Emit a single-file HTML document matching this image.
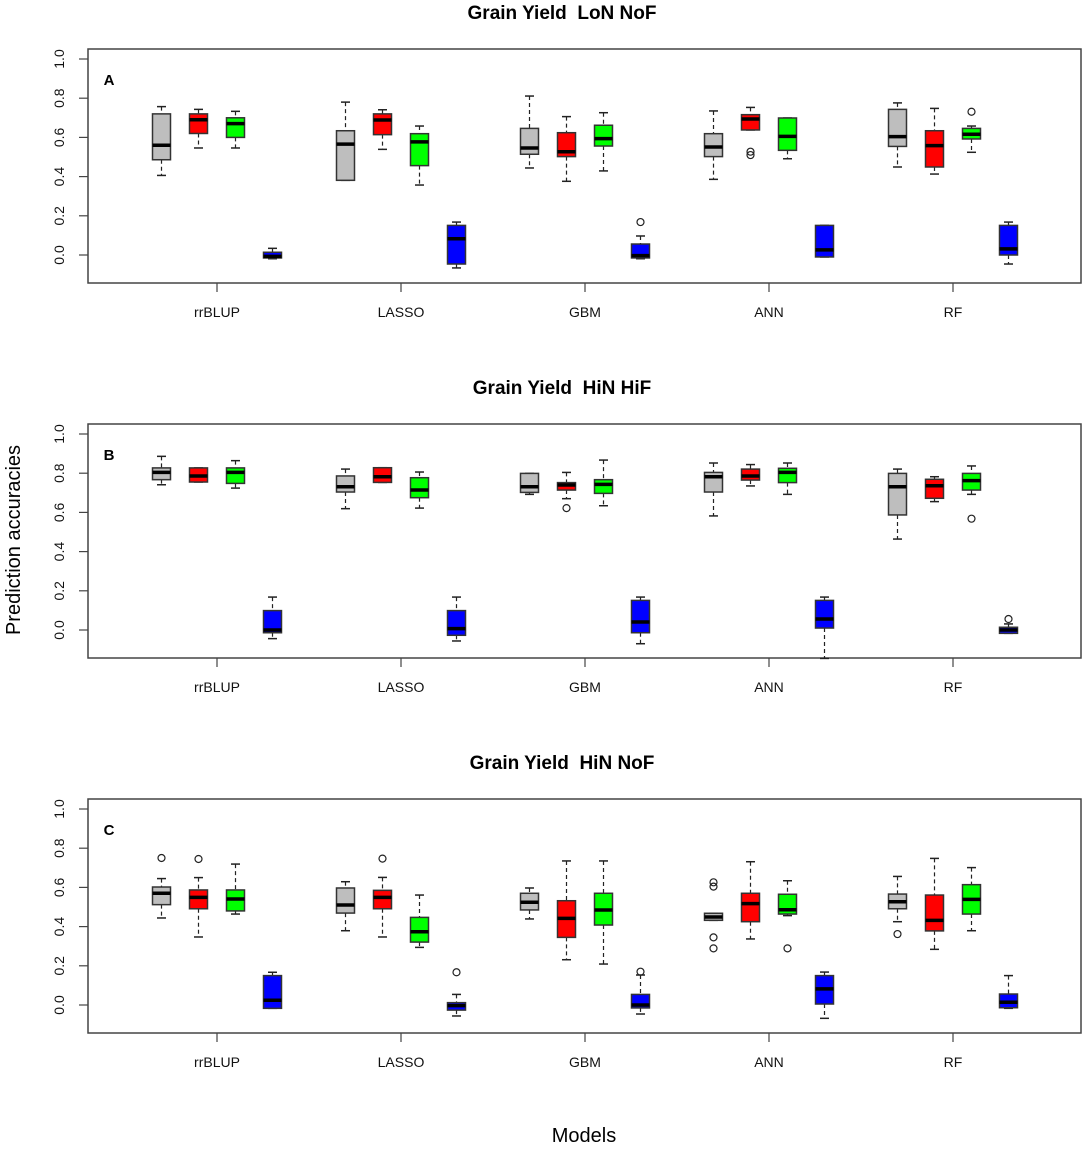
<!DOCTYPE html>
<html><head><meta charset="utf-8"><style>
body{margin:0;background:#fff;}
svg text{font-family:"Liberation Sans",Arial,sans-serif;}
</style></head><body>
<svg id="chart" width="1084" height="1148" viewBox="0 0 1084 1148" xmlns="http://www.w3.org/2000/svg"></svg>
<script>
const models = ["rrBLUP","LASSO","GBM","ANN","RF"];
const panelTitles = ["Grain Yield  LoN NoF","Grain Yield  HiN HiF","Grain Yield  HiN NoF"];
const panelLetters = ["A","B","C"];
const yTicks = [0.0,0.2,0.4,0.6,0.8,1.0];
const yTickLabels = ["0.0","0.2","0.4","0.6","0.8","1.0"];
const seriesColors = ["#bebebe","#ff0000","#00ff00","#0000ff"];
// each entry: [lowWhisker, q1, median, q3, highWhisker]
const aGray  = [[0.406,0.486,0.56,0.72,0.757],[0.381,0.381,0.566,0.634,0.78],[0.444,0.514,0.546,0.646,0.811],[0.386,0.502,0.551,0.619,0.735],[0.449,0.554,0.604,0.743,0.776]];
const aRed   = [[0.546,0.62,0.69,0.72,0.743],[0.539,0.614,0.689,0.72,0.741],[0.376,0.502,0.527,0.624,0.706],[0.638,0.638,0.694,0.716,0.753],[0.413,0.449,0.558,0.634,0.748]];
const aGreen = [[0.546,0.60,0.67,0.70,0.733],[0.357,0.456,0.577,0.619,0.658],[0.429,0.556,0.594,0.662,0.726],[0.491,0.534,0.605,0.699,0.699],[0.524,0.592,0.616,0.646,0.658]];
const aBlue  = [[-0.019,-0.015,-0.007,0.014,0.034],[-0.066,-0.046,0.083,0.151,0.168],[-0.019,-0.015,-0.003,0.056,0.097],[-0.01,-0.01,0.026,0.151,0.151],[-0.046,0,0.031,0.151,0.168]];
const aOutliers = [[1,3,0.527],[1,3,0.51],[3,2,0.168],[2,4,0.731]]; // [series, model, value]
const bGray  = [[0.741,0.767,0.804,0.827,0.886],[0.619,0.704,0.731,0.786,0.821],[0.692,0.702,0.731,0.799,0.799],[0.582,0.704,0.782,0.804,0.852],[0.464,0.587,0.731,0.799,0.821]];
const bRed   = [[0.755,0.755,0.786,0.827,0.827],[0.753,0.753,0.782,0.828,0.828],[0.67,0.714,0.74,0.752,0.804],[0.735,0.765,0.786,0.821,0.844],[0.655,0.672,0.736,0.769,0.782]];
const bGreen = [[0.724,0.748,0.804,0.827,0.864],[0.622,0.675,0.714,0.777,0.806],[0.634,0.697,0.743,0.767,0.867],[0.692,0.752,0.804,0.825,0.852],[0.692,0.714,0.762,0.799,0.837]];
const bBlue  = [[-0.044,-0.014,0.0,0.099,0.168],[-0.056,-0.027,0.007,0.099,0.168],[-0.07,-0.014,0.041,0.151,0.168],[-0.145,0.01,0.056,0.151,0.168],[-0.017,-0.017,0.0,0.014,0.031]];
const bOutliers = [[1,2,0.622],[2,4,0.568],[3,4,0.056]];
const cGray  = [[0.444,0.512,0.57,0.602,0.645],[0.379,0.469,0.51,0.597,0.629],[0.439,0.485,0.524,0.57,0.597],[0.432,0.432,0.449,0.468,0.468],[0.425,0.491,0.527,0.566,0.656]];
const cRed   = [[0.347,0.491,0.549,0.587,0.65],[0.347,0.491,0.549,0.585,0.651],[0.231,0.345,0.442,0.532,0.735],[0.337,0.425,0.517,0.57,0.731],[0.284,0.378,0.432,0.561,0.748]];
const cGreen = [[0.464,0.48,0.541,0.587,0.719],[0.294,0.321,0.374,0.447,0.561],[0.209,0.408,0.485,0.57,0.735],[0.456,0.464,0.486,0.565,0.634],[0.379,0.464,0.539,0.614,0.701]];
const cBlue  = [[-0.017,-0.017,0.024,0.15,0.167],[-0.056,-0.026,-0.003,0.012,0.054],[-0.046,-0.015,0.0,0.054,0.153],[-0.068,0.005,0.082,0.15,0.168],[-0.017,-0.014,0.014,0.056,0.15]];
const cOutliers = [[0,0,0.75],[1,0,0.745],[1,1,0.747],[3,1,0.167],[3,2,0.17],[0,3,0.626],[0,3,0.604],[0,3,0.345],[0,3,0.289],[2,3,0.289],[0,4,0.362]];

const panels = [
  {series:[aGray,aRed,aGreen,aBlue], outliers:aOutliers},
  {series:[bGray,bRed,bGreen,bBlue], outliers:bOutliers},
  {series:[cGray,cRed,cGreen,cBlue], outliers:cOutliers}
];
const svg = document.getElementById('chart');
const NS = "http://www.w3.org/2000/svg";
function mk(tag, attrs, parent){const e=document.createElementNS(NS,tag);for(const k in attrs)e.setAttribute(k,attrs[k]);(parent||svg).appendChild(e);return e;}
const L=88, R=1081, panelTops=[49,424,799], panelH=234;
function yScale(p,v){return panelTops[p]+206-v*196;}
function xScale(m,s){return 217+m*184+(s-1.5)*37;}
const names=["gray","red","green","blue"];
panels.forEach((P,p)=>{
  const g=mk('g',{});
  
  
  const top=panelTops[p];
  const t=mk('text',{x:562,y:top-30,'text-anchor':'middle','font-size':19,'font-weight':'bold',fill:'#000','xml:space':'preserve'},g);
  t.style.whiteSpace='pre';
  t.textContent=panelTitles[p];
  
  
  const fr=mk('rect',{x:L,y:top,width:R-L,height:panelH,fill:'none',stroke:'#444','stroke-width':1.5},g);
  
  
  const lt=mk('text',{x:109,y:top+36,'text-anchor':'middle','font-size':15,'font-weight':'bold',fill:'#000'},g);
  lt.textContent=panelLetters[p];
  
  
  yTicks.forEach((v,i)=>{
    const y=yScale(p,v);
    mk('line',{x1:79,x2:L,y1:y,y2:y,stroke:'#444','stroke-width':1.2},g);
    const tx=mk('text',{x:0,y:0,transform:`translate(64,${y}) rotate(-90)`,'text-anchor':'middle','font-size':14,fill:'#111'},g);
    tx.textContent=yTickLabels[i];
    
    
  });
  models.forEach((m,mi)=>{
    const x=217+mi*184;
    mk('line',{x1:x,x2:x,y1:top+panelH,y2:top+panelH+9,stroke:'#444','stroke-width':1.2},g);
    const tx=mk('text',{x:x,y:top+panelH+34,'text-anchor':'middle','font-size':14,fill:'#111'},g);
    tx.textContent=m;
    
    
  });
  P.series.forEach((ser,si)=>{
    ser.forEach((st,mi)=>{
      const bg=mk('g',{},g);
      
      
      const cx=xScale(mi,si), w=18;
      const [lo,q1,md,q3,hi]=st.map(v=>yScale(p,v));
      mk('line',{x1:cx,x2:cx,y1:hi,y2:q3,stroke:'#222','stroke-width':1.2,'stroke-dasharray':'4,3'},bg);
      mk('line',{x1:cx,x2:cx,y1:q1,y2:lo,stroke:'#222','stroke-width':1.2,'stroke-dasharray':'4,3'},bg);
      mk('line',{x1:cx-4.5,x2:cx+4.5,y1:hi,y2:hi,stroke:'#222','stroke-width':1.5},bg);
      mk('line',{x1:cx-4.5,x2:cx+4.5,y1:lo,y2:lo,stroke:'#222','stroke-width':1.5},bg);
      mk('rect',{x:cx-w/2,y:q3,width:w,height:Math.max(q1-q3,1),fill:seriesColors[si],stroke:'#333','stroke-width':1.5},bg);
      mk('line',{x1:cx-w/2,x2:cx+w/2,y1:md,y2:md,stroke:'#000','stroke-width':3.5},bg);
    });
  });
  P.outliers.forEach(o=>{
    const c=mk('circle',{cx:xScale(o[1],o[0]),cy:yScale(p,o[2]),r:3.5,fill:'none',stroke:'#222','stroke-width':1.2},g);
    
    
  });
});
const yt=mk('text',{x:0,y:0,transform:'translate(20,540) rotate(-90)','text-anchor':'middle','font-size':20,fill:'#000'});
yt.textContent='Prediction accuracies';


const xt=mk('text',{x:584,y:1142,'text-anchor':'middle','font-size':20,fill:'#000'});
xt.textContent='Models';


</script>
</body></html>
